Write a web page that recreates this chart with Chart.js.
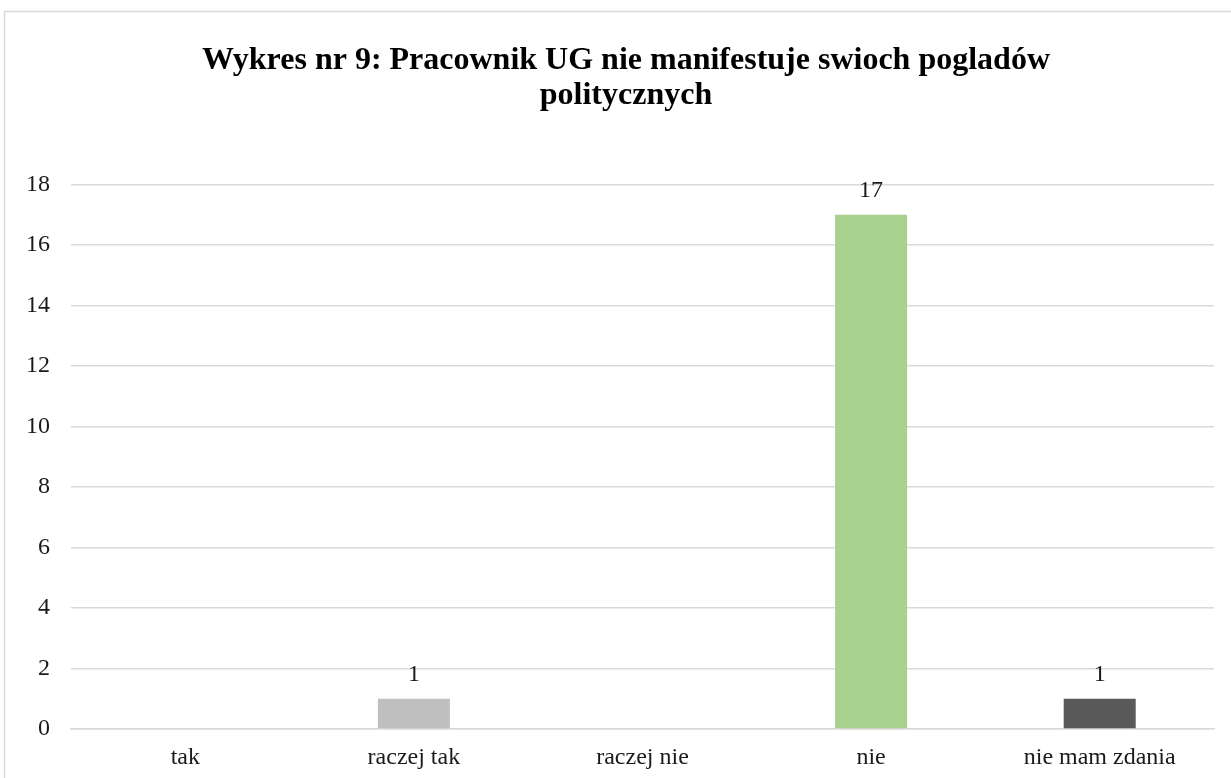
<!DOCTYPE html>
<html>
<head>
<meta charset="utf-8">
<script src="https://cdn.jsdelivr.net/npm/chart.js@4"></script>
<style>
  html, body { margin: 0; padding: 0; background: #fff; }
  #wrap { width: 1231px; height: 778px; position: relative; }
</style>
</head>
<body>
<div id="wrap"><canvas id="myChart"></canvas></div>
<script>
const categories = ["tak", "raczej tak", "raczej nie", "nie", "nie mam zdania"];
const answers = [0, 1, 0, 17, 1];
const barColors = ["#9dc3e6", "#bfbfbf", "#f4b183", "#a9d18e", "#595959"];
const yTicks = [0, 2, 4, 6, 8, 10, 12, 14, 16, 18];
const titleLines = ["Wykres nr 9: Pracownik UG nie manifestuje swioch pogladów", "politycznych"];

const serif = "'Liberation Serif', 'Times New Roman', serif";

// light frame around the chart, cut off at right and bottom like the original
const frame = {
  id: "frame",
  beforeDraw(chart) {
    const ctx = chart.ctx;
    ctx.save();
    ctx.strokeStyle = "#d9d9d9";
    ctx.lineWidth = 1.5;
    ctx.strokeRect(4.5, 11.5, chart.width + 20, chart.height + 20);
    ctx.restore();
  }
};

// value labels above bars, zeros left empty
const valueLabels = {
  id: "valueLabels",
  afterDatasetsDraw(chart) {
    const ctx = chart.ctx;
    const meta = chart.getDatasetMeta(0);
    ctx.save();
    ctx.font = "24px " + serif;
    ctx.fillStyle = "#1a1a1a";
    ctx.textAlign = "center";
    ctx.textBaseline = "middle";
    meta.data.forEach((bar, i) => {
      const v = chart.data.datasets[0].data[i];
      if (!v) return;
      ctx.fillText(String(v), bar.x, bar.y - 24);
    });
    ctx.restore();
  }
};

new Chart("myChart", {
  type: "bar",
  data: {
    labels: categories,
    datasets: [{
      data: answers,
      backgroundColor: barColors,
      categoryPercentage: 0.63,
      barPercentage: 0.5
    }]
  },
  options: {
    responsive: true,
    maintainAspectRatio: false,
    animation: false,
    layout: { padding: { left: 21, right: 0, top: 0, bottom: 6 } },
    plugins: {
      legend: { display: false },
      tooltip: { enabled: false },
      title: {
        display: true,
        text: titleLines,
        color: "#000",
        font: { family: serif, size: 32, weight: "bold", lineHeight: 1.1 },
        padding: { top: 43, bottom: 71 }
      }
    },
    scales: {
      x: {
        afterFit(scale) { scale.height = 43; },
        grid: { display: false, drawTicks: false },
        border: { display: true, color: "#d9d9d9", width: 1.5 },
        ticks: {
          color: "#1a1a1a",
          font: { family: serif, size: 24 },
          padding: 14,
          maxRotation: 0
        }
      },
      y: {
        min: 0,
        max: 18,
        afterFit(scale) { scale.width = 50; },
        afterBuildTicks(scale) { scale.ticks = yTicks.map(v => ({ value: v })); },
        grid: { color: "#d9d9d9", lineWidth: 1.5, drawTicks: false },
        border: { display: false },
        ticks: {
          color: "#1a1a1a",
          font: { family: serif, size: 24 },
          padding: 21
        }
      },
      // empty spacer on the right so the plot ends where the original does
      yRight: {
        position: "right",
        min: 0,
        max: 18,
        afterFit(scale) { scale.width = 17; },
        grid: { display: false, drawTicks: false },
        border: { display: false },
        ticks: { display: false }
      }
    }
  },
  plugins: [frame, valueLabels]
});
</script>
</body>
</html>
